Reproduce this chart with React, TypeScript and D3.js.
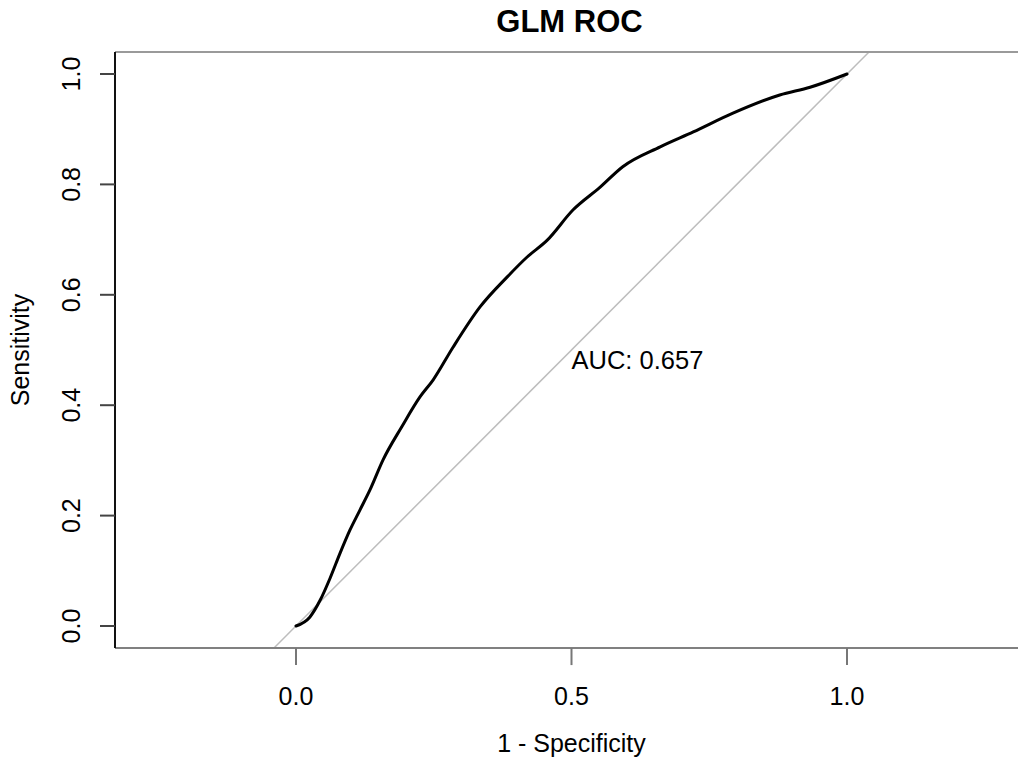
import React from "react";
import * as d3 from "d3";

const fpr = [0, 0.025, 0.044, 0.062, 0.08, 0.098, 0.116, 0.134, 0.158, 0.192, 0.225, 0.249, 0.285, 0.334, 0.383, 0.419, 0.456, 0.503, 0.552, 0.593, 0.661, 0.721, 0.793, 0.878, 0.933, 1];
const tpr = [0, 0.016, 0.047, 0.087, 0.132, 0.174, 0.21, 0.246, 0.301, 0.361, 0.415, 0.446, 0.505, 0.578, 0.632, 0.668, 0.699, 0.754, 0.795, 0.832, 0.868, 0.895, 0.929, 0.962, 0.976, 1];
const xTicks = [0, 0.5, 1];
const yTicks = [0, 0.2, 0.4, 0.6, 0.8, 1];
const title = "GLM ROC";
const xLabel = "1 - Specificity";
const yLabel = "Sensitivity";
const aucText = "AUC: 0.657";

const W = 1018;
const H = 765;
const FONT = "'Liberation Sans', Arial, sans-serif";

export default function App() {
  const x = d3.scaleLinear().domain([0, 1]).range([296, 847]);
  const y = d3.scaleLinear().domain([0, 1]).range([626, 74]);
  const xMin = -0.3285, xMax = 1.3285, yMin = -0.04, yMax = 1.04;
  const pts: [number, number][] = fpr.map((f, i) => [f, tpr[i]]);
  const line = d3.line<[number, number]>().x(d => x(d[0])).y(d => y(d[1])).curve(d3.curveMonotoneX);
  const left = x(xMin), right = x(xMax), top = y(yMax), bottom = y(yMin);
  const midX = (x(0) + x(1)) / 2;
  return (
    <svg width={W} height={H} style={{ position: "absolute", left: 0, top: 0, background: "#fff" }} fontFamily={FONT}>
      <rect x={0} y={0} width={W} height={H} fill="#fff" />
      <line x1={x(yMin)} y1={bottom} x2={x(yMax)} y2={top} stroke="#bdbdbd" strokeWidth={1.5} />
      <line x1={left} y1={top} x2={right} y2={top} stroke="#9a9a9a" strokeWidth={2} />
      <line x1={left} y1={bottom} x2={right} y2={bottom} stroke="#808080" strokeWidth={2} />
      <line x1={left} y1={top} x2={left} y2={bottom} stroke="#111" strokeWidth={2} />
      <path d={line(pts) || ""} fill="none" stroke="#000" strokeWidth={3} strokeLinejoin="round" strokeLinecap="round" />
      {yTicks.map(t => (
        <g key={"y" + t}>
          <line x1={left - 15} x2={left} y1={y(t)} y2={y(t)} stroke="#444" strokeWidth={2} />
          <text transform={`translate(${left - 35},${y(t)}) rotate(-90)`} textAnchor="middle" fontSize={25} fill="#000">{t.toFixed(1)}</text>
        </g>
      ))}
      {xTicks.map(t => (
        <g key={"x" + t}>
          <line x1={x(t)} x2={x(t)} y1={bottom} y2={bottom + 17} stroke="#777" strokeWidth={2} />
          <text x={x(t)} y={705} textAnchor="middle" fontSize={25} fill="#000">{t.toFixed(1)}</text>
        </g>
      ))}
      <text x={x(0.5)} y={369} fontSize={25.5} fill="#000">{aucText}</text>
      <text x={midX - 2} y={32} textAnchor="middle" fontSize={31} fontWeight="bold" fill="#000">{title}</text>
      <text x={midX} y={752} textAnchor="middle" fontSize={25} fill="#000">{xLabel}</text>
      <text transform={`translate(29,${(top + bottom) / 2}) rotate(-90)`} textAnchor="middle" fontSize={25} fill="#000">{yLabel}</text>
    </svg>
  );
}
